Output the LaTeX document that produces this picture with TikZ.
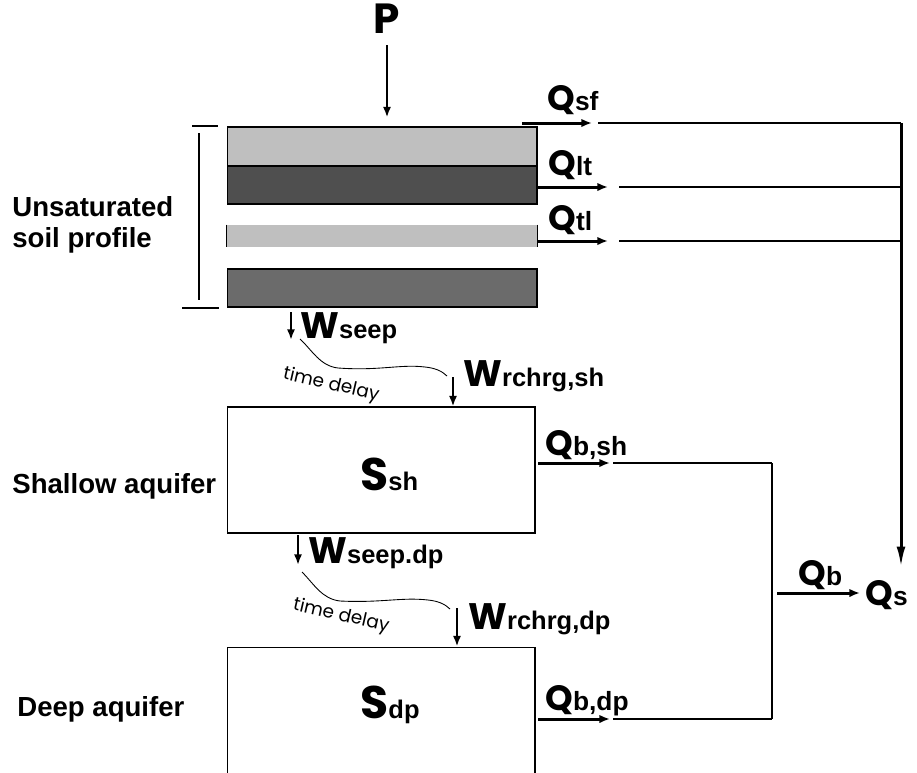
\documentclass[tikz,border=0pt]{standalone}
\usepackage{fontspec}
\setmainfont{Liberation Sans}
\newfontfamily\geo{Poppins}
\usetikzlibrary{arrows.meta}

\newcommand{\qflux}[2]{{\geo\fontsize{20}{20}\selectfont#1}{\fontsize{15}{15}\selectfont#2}}
\newcommand{\wflux}[2]{{\geo\fontsize{21}{21}\selectfont#1}{\fontsize{14.5}{14.5}\selectfont#2}}
\newcommand{\storage}[2]{{\geo\fontsize{26}{26}\selectfont#1}{\fontsize{14.5}{14.5}\selectfont#2}}

\begin{document}
\begin{tikzpicture}[x=0.02cm, y=-0.02cm,
    layer/.style={rectangle, draw, line width=0.6pt, minimum width=6.2cm, inner sep=0pt},
    aquifer/.style={rectangle, draw, line width=0.6pt, minimum width=6.16cm, inner sep=0pt},
    sym/.style={inner sep=0pt, anchor=base west, font=\bfseries},
    lbl/.style={inner sep=0pt, align=left, font=\bfseries\fontsize{15.7}{17.6}\selectfont},
    flow/.style={-{Latex[length=6pt, width=4.8pt]}, line width=1.7pt},
    drop/.style={-{Latex[length=6pt, width=4.6pt]}, line width=1.4pt},
    link/.style={line width=1.1pt},
    delay/.style={line width=0.5pt},
    delaytext/.style={inner sep=0pt, font=\geo\fontsize{10.5}{10.5}\selectfont, rotate=-13}
]
    \clip (0,0) rectangle (917,772);

    \node[inner sep=0pt, anchor=base, font=\geo\bfseries\fontsize{24}{24}\selectfont] (P) at (387,33) {P};
    \node[layer, fill=black!25, minimum height=0.78cm] (soil1) at (382,146.5) {};
    \node[layer, fill=black!69, minimum height=0.76cm] (soil2) at (382,185) {};
    \node[rectangle, fill=black!25, minimum width=6.2cm, minimum height=0.44cm, inner sep=0pt] (soil3) at (382,236) {};
    \node[layer, fill=black!58, minimum height=0.76cm] (soil4) at (382,288) {};
    \draw[line width=0.6pt] (soil3.north west) -- (soil3.south west) (soil3.north east) -- (soil3.south east);
    \draw[drop, shorten <=0.24cm, shorten >=0.18cm] (P.south) -- (P.south |- soil1.north);

    \draw[line width=0.6pt] (192,126) -- (218,126) (199,133) -- (199,300) (182,308) -- (219,308);
    \node[lbl, anchor=west] (unsat) at (12,225) {Unsaturated\\soil profile};

    \node[aquifer, minimum height=2.52cm] (shallow) at (381,470) {};
    \node[aquifer, minimum height=3.06cm] (deep) at (381,723.5) {};

    \node[sym] (Qsf) at (547,110) {\qflux{Q}{sf}};
    \node[sym] (Qlt) at (548,175) {\qflux{Q}{lt}};
    \node[sym] (Qtl) at (548,230) {\qflux{Q}{tl}};
    \node[sym] (Qs)  at (865,605) {\qflux{Q}{s}};
    \coordinate (sfA) at (522,123);
    \coordinate (sfB) at (592,123);
    \coordinate (sfC) at (598,123);
    \coordinate (sfD) at (901,123);
    \coordinate (ltA) at (537,187);
    \coordinate (ltB) at (608,187);
    \coordinate (ltC) at (619,187);
    \coordinate (tlA) at (537,241);
    \coordinate (tlB) at (608,241);
    \coordinate (tlC) at (619,241);
    \draw[flow] (sfA) -- (sfB);
    \draw[flow] (ltA) -- (ltB);
    \draw[flow] (tlA) -- (tlB);
    \draw[link] (sfC) -- (sfD);
    \draw[link] (ltC) -- (ltC -| sfD);
    \draw[link] (tlC) -- (tlC -| sfD);
    \draw[-{Latex[length=12pt, width=5pt]}, line width=1.7pt, shorten >=0.24cm] (sfD) -- (sfD |- Qs.north);

    \node[sym] (Wseep) at (300,338) {\wflux{W}{seep}};
    \coordinate (seepA) at (291,312);
    \coordinate (seepB) at (291,340);
    \draw[drop] (seepA) -- (seepB);
    \coordinate (td1A) at (300,339);
    \coordinate (td1B) at (447,376);
    \draw[delay] (td1A) .. controls (312,350) and (320,366) .. (338,368)
        .. controls (380,371) and (400,364) .. (425,367)
        .. controls (435,368) and (442,371) .. (td1B);
    \node[delaytext] (td1) at (331,385) {time delay};
    \node[sym] (Wsh) at (463,386) {\wflux{W}{rchrg,sh}};
    \coordinate (rshA) at (453,377);
    \draw[drop] (rshA) -- (rshA |- shallow.north);

    \node[sym] (Ssh) at (360,490) {\storage{S}{sh}};
    \node[lbl, anchor=base west] (shlab) at (12,493) {Shallow aquifer};

    \node[sym] (Wdp) at (308,563) {\wflux{W}{seep.dp}};
    \coordinate (sdpA) at (298,535);
    \coordinate (sdpB) at (298,565);
    \draw[drop] (sdpA) -- (sdpB);
    \coordinate (td2A) at (302,572);
    \coordinate (td2B) at (450,609);
    \draw[delay] (td2A) .. controls (314,584) and (322,599) .. (340,601)
        .. controls (382,603) and (402,597) .. (428,600)
        .. controls (438,601) and (445,604) .. (td2B);
    \node[delaytext] (td2) at (341,616) {time delay};
    \node[sym] (Wrdp) at (468,629) {\wflux{W}{rchrg,dp}};
    \coordinate (rdpA) at (457,608);
    \draw[drop] (rdpA) -- (rdpA |- deep.north);

    \node[sym] (Sdp) at (360,718) {\storage{S}{dp}};
    \node[lbl, anchor=base west] (dplab) at (17,716) {Deep aquifer};

    \node[sym] (Qbsh) at (545,455) {\qflux{Q}{b,sh}};
    \node[sym] (Qbdp) at (545,710) {\qflux{Q}{b,dp}};
    \node[sym] (Qb)   at (798,585) {\qflux{Q}{b}};
    \coordinate (bshA) at (538,463);
    \coordinate (bshB) at (610,463);
    \coordinate (bshC) at (613,463);
    \coordinate (bshD) at (772,463);
    \coordinate (bdpA) at (538,719);
    \coordinate (bdpB) at (610,719);
    \coordinate (bdpC) at (613,719);
    \coordinate (bdpD) at (772,719);
    \coordinate (bA) at (777,593);
    \coordinate (bB) at (860,593);
    \draw[flow] (bshA) -- (bshB);
    \draw[flow] (bdpA) -- (bdpB);
    \draw[link] (bshC) -- (bshD);
    \draw[link] (bdpC) -- (bdpD);
    \draw[line width=1.6pt] (bshD) -- (bdpD);
    \draw[flow] (bA) -- (bB);
\end{tikzpicture}
\end{document}
